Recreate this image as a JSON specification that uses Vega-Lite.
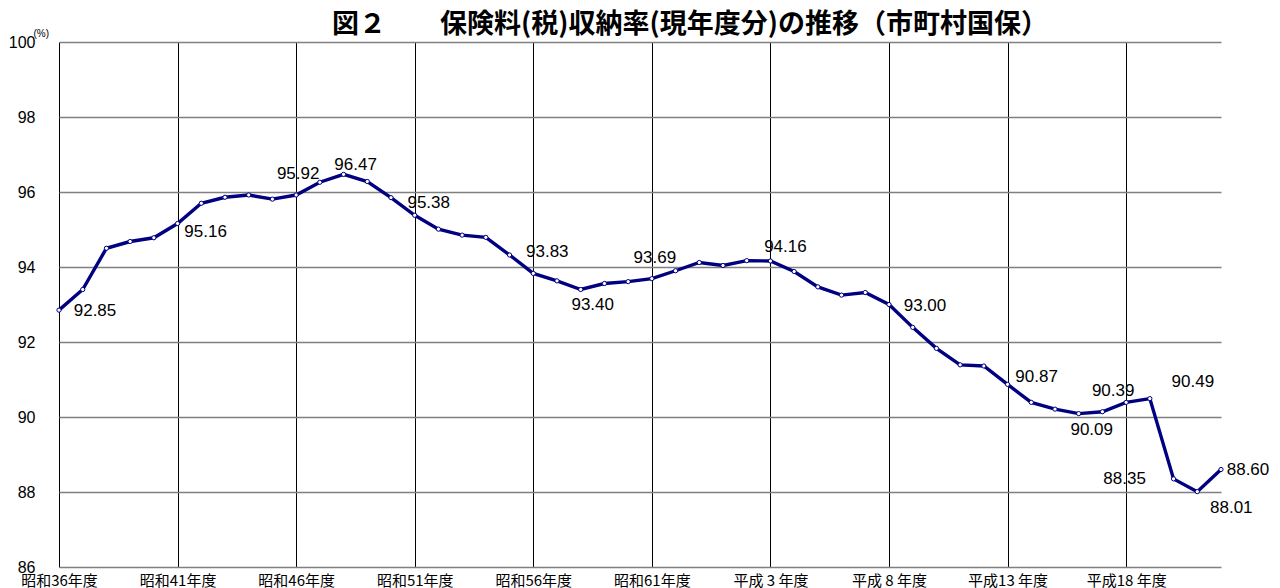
{
  "$schema": "https://vega.github.io/schema/vega-lite/v6.json",
  "autosize": "none",
  "width": 1162,
  "height": 525,
  "padding": {"left": 59, "top": 42, "right": 59, "bottom": 21},
  "background": "white",
  "config": {"view": {"stroke": null}, "font": "Liberation Sans"},
  "title": {
    "text": "図２　　保険料(税)収納率(現年度分)の推移（市町村国保）",
    "font": "Noto Sans CJK JP",
    "fontSize": 27,
    "fontWeight": "bold",
    "color": "#000",
    "anchor": "middle",
    "dx": 50,
    "dy": 30,
    "baseline": "middle",
    "offset": 6
  },
  "data": {"values": [
    {"year": 1961, "rate": 92.85}, {"year": 1962, "rate": 93.40}, {"year": 1963, "rate": 94.50},
    {"year": 1964, "rate": 94.68}, {"year": 1965, "rate": 94.78}, {"year": 1966, "rate": 95.16},
    {"year": 1967, "rate": 95.70}, {"year": 1968, "rate": 95.86}, {"year": 1969, "rate": 95.92},
    {"year": 1970, "rate": 95.81}, {"year": 1971, "rate": 95.92}, {"year": 1972, "rate": 96.26},
    {"year": 1973, "rate": 96.47}, {"year": 1974, "rate": 96.28}, {"year": 1975, "rate": 95.85},
    {"year": 1976, "rate": 95.38}, {"year": 1977, "rate": 95.01}, {"year": 1978, "rate": 94.85},
    {"year": 1979, "rate": 94.79}, {"year": 1980, "rate": 94.32}, {"year": 1981, "rate": 93.83},
    {"year": 1982, "rate": 93.63}, {"year": 1983, "rate": 93.40}, {"year": 1984, "rate": 93.56},
    {"year": 1985, "rate": 93.61}, {"year": 1986, "rate": 93.69}, {"year": 1987, "rate": 93.90},
    {"year": 1988, "rate": 94.12}, {"year": 1989, "rate": 94.04}, {"year": 1990, "rate": 94.17},
    {"year": 1991, "rate": 94.16}, {"year": 1992, "rate": 93.88}, {"year": 1993, "rate": 93.47},
    {"year": 1994, "rate": 93.25}, {"year": 1995, "rate": 93.32}, {"year": 1996, "rate": 93.00},
    {"year": 1997, "rate": 92.39}, {"year": 1998, "rate": 91.83}, {"year": 1999, "rate": 91.39},
    {"year": 2000, "rate": 91.36}, {"year": 2001, "rate": 90.87}, {"year": 2002, "rate": 90.39},
    {"year": 2003, "rate": 90.21}, {"year": 2004, "rate": 90.09}, {"year": 2005, "rate": 90.14},
    {"year": 2006, "rate": 90.39}, {"year": 2007, "rate": 90.49}, {"year": 2008, "rate": 88.35},
    {"year": 2009, "rate": 88.01}, {"year": 2010, "rate": 88.60}
  ]},
  "encoding": {
    "x": {
      "field": "year", "type": "quantitative",
      "scale": {"domain": [1961, 2010], "nice": false, "zero": false},
      "axis": {
        "values": [1961, 1966, 1971, 1976, 1981, 1986, 1991, 1996, 2001, 2006],
        "title": null,
        "grid": true, "gridColor": "#000", "gridWidth": 1, "gridOpacity": 1,
        "domain": false, "ticks": false, "tickSize": 0,
        "labelFlush": false, "labelOverlap": false, "labelBound": false,
        "labelFont": "Noto Sans CJK JP", "labelFontSize": 15, "labelColor": "#000",
        "labelBaseline": "middle", "labelPadding": 13,
        "labelExpr": "datum.value == 1961 ? '昭和36年度' : datum.value == 1966 ? '昭和41年度' : datum.value == 1971 ? '昭和46年度' : datum.value == 1976 ? '昭和51年度' : datum.value == 1981 ? '昭和56年度' : datum.value == 1986 ? '昭和61年度' : datum.value == 1991 ? '平成 3 年度' : datum.value == 1996 ? '平成 8 年度' : datum.value == 2001 ? '平成13 年度' : '平成18 年度'"
      }
    },
    "y": {
      "field": "rate", "type": "quantitative",
      "scale": {"domain": [86, 100], "nice": false, "zero": false},
      "axis": {
        "values": [86, 88, 90, 92, 94, 96, 98, 100],
        "grid": true, "gridColor": "#808080", "gridWidth": 1.5, "gridOpacity": 1,
        "domain": false, "ticks": false, "tickSize": 0,
        "labelPadding": 24, "labelFont": "Liberation Sans", "labelFontSize": 16, "labelColor": "#000",
        "labelBaseline": "middle",
        "title": "(%)", "titleAngle": 0, "titleX": -26, "titleY": -9,
        "titleAlign": "left", "titleBaseline": "middle",
        "titleFont": "Liberation Sans", "titleFontSize": 10, "titleFontWeight": "normal", "titleColor": "#000"
      }
    }
  },
  "layer": [
    {"mark": {"type": "line", "color": "#000080", "strokeWidth": 3.4}},
    {"mark": {"type": "point", "shape": "circle", "size": 18, "filled": true, "fill": "white", "stroke": "#000080", "strokeWidth": 1, "opacity": 1}},
    {"transform": [{"filter": "datum.year == 1961"}], "mark": {"type": "text", "dx": 36, "dy": 1, "fontSize": 17, "color": "#000", "baseline": "middle", "align": "center"}, "encoding": {"text": {"field": "rate", "type": "quantitative", "format": ".2f"}}},
    {"transform": [{"filter": "datum.year == 1966"}], "mark": {"type": "text", "dx": 28, "dy": 8, "fontSize": 17, "color": "#000", "baseline": "middle", "align": "center"}, "encoding": {"text": {"field": "rate", "type": "quantitative", "format": ".2f"}}},
    {"transform": [{"filter": "datum.year == 1971"}], "mark": {"type": "text", "dx": 2, "dy": -21, "fontSize": 17, "color": "#000", "baseline": "middle", "align": "center"}, "encoding": {"text": {"field": "rate", "type": "quantitative", "format": ".2f"}}},
    {"transform": [{"filter": "datum.year == 1973"}], "mark": {"type": "text", "dx": 12, "dy": -9, "fontSize": 17, "color": "#000", "baseline": "middle", "align": "center"}, "encoding": {"text": {"field": "rate", "type": "quantitative", "format": ".2f"}}},
    {"transform": [{"filter": "datum.year == 1976"}], "mark": {"type": "text", "dx": 14, "dy": -12, "fontSize": 17, "color": "#000", "baseline": "middle", "align": "center"}, "encoding": {"text": {"field": "rate", "type": "quantitative", "format": ".2f"}}},
    {"transform": [{"filter": "datum.year == 1981"}], "mark": {"type": "text", "dx": 14, "dy": -21, "fontSize": 17, "color": "#000", "baseline": "middle", "align": "center"}, "encoding": {"text": {"field": "rate", "type": "quantitative", "format": ".2f"}}},
    {"transform": [{"filter": "datum.year == 1983"}], "mark": {"type": "text", "dx": 12, "dy": 15, "fontSize": 17, "color": "#000", "baseline": "middle", "align": "center"}, "encoding": {"text": {"field": "rate", "type": "quantitative", "format": ".2f"}}},
    {"transform": [{"filter": "datum.year == 1986"}], "mark": {"type": "text", "dx": 3, "dy": -21, "fontSize": 17, "color": "#000", "baseline": "middle", "align": "center"}, "encoding": {"text": {"field": "rate", "type": "quantitative", "format": ".2f"}}},
    {"transform": [{"filter": "datum.year == 1991"}], "mark": {"type": "text", "dx": 15, "dy": -14, "fontSize": 17, "color": "#000", "baseline": "middle", "align": "center"}, "encoding": {"text": {"field": "rate", "type": "quantitative", "format": ".2f"}}},
    {"transform": [{"filter": "datum.year == 1996"}], "mark": {"type": "text", "dx": 36, "dy": 1, "fontSize": 17, "color": "#000", "baseline": "middle", "align": "center"}, "encoding": {"text": {"field": "rate", "type": "quantitative", "format": ".2f"}}},
    {"transform": [{"filter": "datum.year == 2001"}], "mark": {"type": "text", "dx": 29, "dy": -7, "fontSize": 17, "color": "#000", "baseline": "middle", "align": "center"}, "encoding": {"text": {"field": "rate", "type": "quantitative", "format": ".2f"}}},
    {"transform": [{"filter": "datum.year == 2004"}], "mark": {"type": "text", "dx": 13, "dy": 16, "fontSize": 17, "color": "#000", "baseline": "middle", "align": "center"}, "encoding": {"text": {"field": "rate", "type": "quantitative", "format": ".2f"}}},
    {"transform": [{"filter": "datum.year == 2006"}], "mark": {"type": "text", "dx": -13, "dy": -11, "fontSize": 17, "color": "#000", "baseline": "middle", "align": "center"}, "encoding": {"text": {"field": "rate", "type": "quantitative", "format": ".2f"}}},
    {"transform": [{"filter": "datum.year == 2007"}], "mark": {"type": "text", "dx": 43, "dy": -17, "fontSize": 17, "color": "#000", "baseline": "middle", "align": "center"}, "encoding": {"text": {"field": "rate", "type": "quantitative", "format": ".2f"}}},
    {"transform": [{"filter": "datum.year == 2008"}], "mark": {"type": "text", "dx": -49, "dy": 0, "fontSize": 17, "color": "#000", "baseline": "middle", "align": "center"}, "encoding": {"text": {"field": "rate", "type": "quantitative", "format": ".2f"}}},
    {"transform": [{"filter": "datum.year == 2009"}], "mark": {"type": "text", "dx": 34, "dy": 16, "fontSize": 17, "color": "#000", "baseline": "middle", "align": "center"}, "encoding": {"text": {"field": "rate", "type": "quantitative", "format": ".2f"}}},
    {"transform": [{"filter": "datum.year == 2010"}], "mark": {"type": "text", "dx": 27, "dy": 0, "fontSize": 17, "color": "#000", "baseline": "middle", "align": "center"}, "encoding": {"text": {"field": "rate", "type": "quantitative", "format": ".2f"}}}
  ]
}
